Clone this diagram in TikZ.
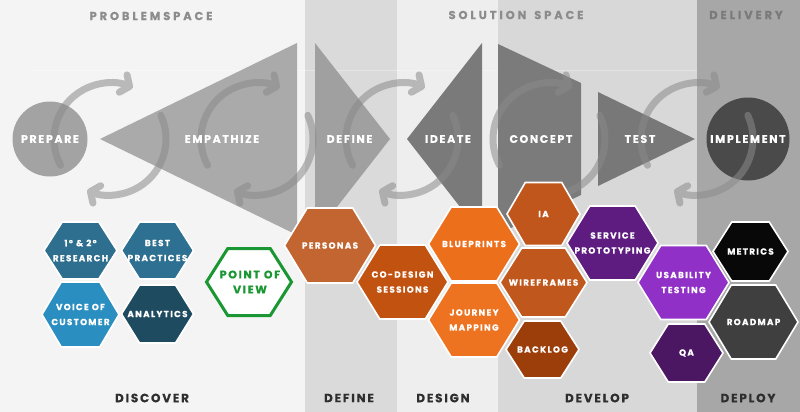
\documentclass[tikz,border=0pt]{standalone}
\usepackage{fontspec}
\setmainfont{Poppins}
\newfontfamily\lblfont{Poppins}[LetterSpace=15, BoldFeatures={FakeBold=0.5}]
\newfontfamily\hdrfont{Poppins}[LetterSpace=25, BoldFeatures={FakeBold=0.5}]
\usetikzlibrary{arrows.meta}
\definecolor{bgA}{HTML}{F4F4F4}
\definecolor{bgB}{HTML}{DADADA}
\definecolor{bgC}{HTML}{EEEEEE}
\definecolor{bgD}{HTML}{D8D8D8}
\definecolor{bgE}{HTML}{A7A7A7}
\definecolor{prepC}{HTML}{A3A3A3}
\definecolor{empC}{HTML}{AAAAAA}
\definecolor{defC}{HTML}{A0A0A0}
\definecolor{ideC}{HTML}{7A7A7A}
\definecolor{conC}{HTML}{7B7B7B}
\definecolor{tesC}{HTML}{787878}
\definecolor{impC}{HTML}{4A4A4A}
\definecolor{cycgray}{HTML}{8A8A8A}
\definecolor{hdrgray}{HTML}{8C8C8C}
\definecolor{delgray}{HTML}{7A7A7A}
\definecolor{phasegray}{HTML}{2E2E2E}
\definecolor{povgreen}{HTML}{1A9632}
\definecolor{cResearch}{HTML}{2E6F8F}
\definecolor{cBest}{HTML}{2E7091}
\definecolor{cVoice}{HTML}{2A8FC0}
\definecolor{cAnalytics}{HTML}{1E4B60}
\definecolor{cPersonas}{HTML}{C26530}
\definecolor{cCodesign}{HTML}{C2520F}
\definecolor{cBlueprints}{HTML}{EC6F1C}
\definecolor{cJourney}{HTML}{EE7321}
\definecolor{cIA}{HTML}{C0561B}
\definecolor{cWire}{HTML}{C0571C}
\definecolor{cBacklog}{HTML}{9B3E0A}
\definecolor{cService}{HTML}{5E1B80}
\definecolor{cUsability}{HTML}{9130C6}
\definecolor{cQA}{HTML}{4B1763}
\definecolor{cMetrics}{HTML}{080808}
\definecolor{cRoadmap}{HTML}{3F3F3F}
\tikzset{
  toplabel/.style={text=white, inner sep=0pt, font=\lblfont\bfseries\fontsize{11}{13}\selectfont},
  hexlabel/.style={text=white, inner sep=0pt, align=center, font=\lblfont\bfseries\fontsize{8.8}{15}\selectfont},
  povlabel/.style={text=povgreen, inner sep=0pt, align=center, font=\lblfont\bfseries\fontsize{11}{15}\selectfont},
  header/.style={inner sep=0pt, font=\hdrfont\bfseries\fontsize{11.5}{13}\selectfont},
  phase/.style={inner sep=0pt, text=phasegray, font=\lblfont\bfseries\fontsize{12}{14}\selectfont},
  cyc/.style={draw=cycgray, line width=7pt, line cap=round, -{Straight Barb[length=7pt,width=19pt,round]}},
  hexb/.style={draw=white, line width=1.6pt, line join=miter},
}
\newcommand\hexa[7]{%
  \filldraw[hexb, fill=#6] (#2,#3) ++(-#4,0) -- ++(#4/2,-#5) -- ++(#4,0) -- ++(#4/2,#5) -- ++(-#4/2,#5) -- ++(-#4,0) -- cycle;
  \node[hexlabel] (#1) at (#2,#3) {#7};}
\begin{document}
\begin{tikzpicture}[x=1pt,y=-1pt]
\useasboundingbox (0,0) rectangle (800,412);
% columns
\fill[bgA] (0,0) rectangle (305,412);
\fill[bgB] (305,0) rectangle (397,412);
\fill[bgC] (397,0) rectangle (498,412);
\fill[bgD] (498,0) rectangle (697,412);
\fill[bgE] (697,0) rectangle (800,412);
\draw[white, opacity=0.3, line width=0.8pt] (32,70) -- (697,70);
% top shapes
\fill[prepC] (50,139) circle[radius=37.5];
\fill[empC] (100,139) -- (297,43) -- (297,235) -- cycle;
\fill[defC] (315,43) -- (390,139) -- (315,235) -- cycle;
\fill[ideC] (407,139) -- (482,43) -- (482,235) -- cycle;
\fill[conC] (498,44) -- (581,83) -- (581,195) -- (498,234) -- cycle;
\fill[tesC] (598,92) -- (695,139) -- (598,186) -- cycle;
\fill[impC] (748,139) circle[radius=41.5];
% cycles
\begin{scope}[transparency group, opacity=0.55]
\foreach \cx/\nm in {110/a,257/b,402/c,549/d,697/e}{
  \coordinate (cyc\nm) at (\cx,139);
  \draw[cyc] (cyc\nm) ++(152:56) arc[start angle=152, end angle=294, radius=56];
  \draw[cyc] (cyc\nm) ++(-25:56) arc[start angle=-25, end angle=114, radius=56];
}
\end{scope}
% top labels
\node[toplabel] (prepare) at (50,139) {PREPARE};
\node[toplabel] (empathize) at (222,139) {EMPATHIZE};
\node[toplabel] (define) at (349.5,139) {DEFINE};
\node[toplabel] (ideate) at (448,139) {IDEATE};
\node[toplabel] (concept) at (541,139) {CONCEPT};
\node[toplabel] (test) at (640,139) {TEST};
\node[toplabel] (implement) at (748,139) {IMPLEMENT};
% hexagons
\hexa{research}{80.5}{250.5}{36.5}{28.5}{cResearch}{1º \& 2º\\RESEARCH}
\hexa{best}{157.5}{250.5}{36}{28.5}{cBest}{BEST\\PRACTICES}
\hexa{voice}{80.5}{314.5}{38.5}{32.5}{cVoice}{VOICE OF\\CUSTOMER}
\hexa{analytics}{157.5}{314}{36}{29}{cAnalytics}{ANALYTICS}
\filldraw[fill=white, draw=povgreen, line width=3pt] (249,282) ++(-42.5,0) -- ++(21.25,-33.5) -- ++(42.5,0) -- ++(21.25,33.5) -- ++(-21.25,33.5) -- ++(-42.5,0) -- cycle;
\node[povlabel] (pov) at (250,282) {POINT OF\\VIEW};
\hexa{personas}{330}{245.5}{45.5}{37.5}{cPersonas}{PERSONAS}
\hexa{codesign}{402.5}{282}{45.5}{37}{cCodesign}{CO-DESIGN\\SESSIONS}
\hexa{blueprints}{474}{244}{45.5}{37}{cBlueprints}{BLUEPRINTS}
\hexa{journey}{474}{320}{45.5}{37}{cJourney}{JOURNEY\\MAPPING}
\hexa{ia}{543.5}{214}{36.5}{31.5}{cIA}{IA}
\hexa{wireframes}{543.5}{282.5}{43.5}{34.5}{cWire}{WIREFRAMES}
\hexa{backlog}{542.5}{349.5}{36.5}{28.5}{cBacklog}{BACKLOG}
\hexa{service}{612.5}{243}{45.5}{37}{cService}{SERVICE\\PROTOTYPING}
\hexa{usability}{683.5}{282.5}{45.5}{37}{cUsability}{USABILITY\\TESTING}
\hexa{qa}{686.5}{353}{36.5}{29}{cQA}{QA}
\hexa{metrics}{750.5}{251.5}{37.5}{29.5}{cMetrics}{METRICS}
\hexa{roadmap}{753.5}{322}{44.5}{37}{cRoadmap}{ROADMAP}
% headers
\node[header, text=hdrgray] (problemspace) at (151,16) {PROBLEMSPACE};
\node[header, text=hdrgray] (solutionspace) at (516,15) {SOLUTION\hspace{8pt}SPACE};
\node[header, text=delgray] (delivery) at (746,15) {DELIVERY};
% phases
\node[phase] (discover) at (152,398) {DISCOVER};
\node[phase] (definephase) at (349,398) {DEFINE};
\node[phase] (design) at (443,398) {DESIGN};
\node[phase] (develop) at (597,398) {DEVELOP};
\node[phase] (deploy) at (748,398) {DEPLOY};
\end{tikzpicture}
\end{document}
